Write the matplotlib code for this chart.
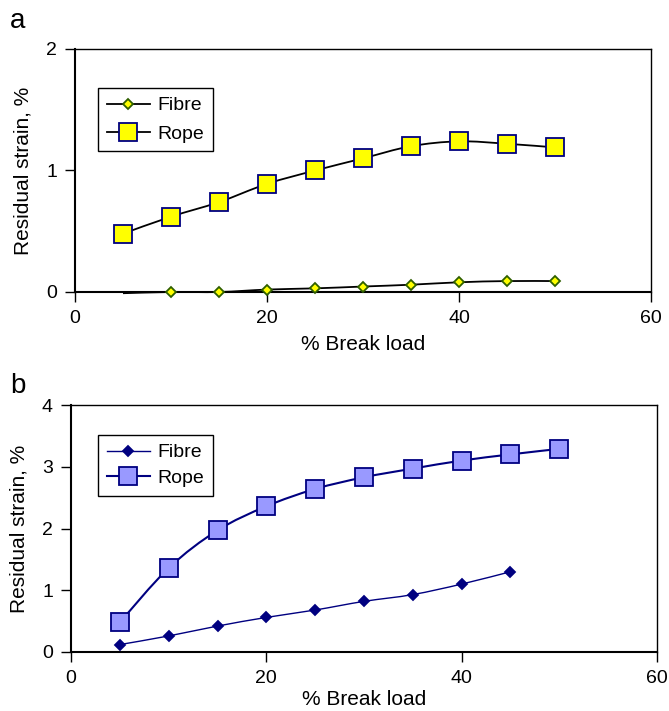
import matplotlib
matplotlib.use("Agg")
import matplotlib.pyplot as plt
import numpy as np
from matplotlib.path import Path
from matplotlib.patches import PathPatch
from matplotlib.lines import Line2D

plt.rcParams['font.family'] = ['Liberation Sans', 'DejaVu Sans']

# % break load
load = [5, 10, 15, 20, 25, 30, 35, 40, 45, 50]

# panel a
fibre_a = [-0.01, 0.0, 0.0, 0.02, 0.03, 0.045, 0.06, 0.08, 0.09, 0.09]
rope_a = [0.48, 0.62, 0.74, 0.89, 1.00, 1.10, 1.20, 1.24, 1.22, 1.19]

# panel b
load_fibre_b = [5, 10, 15, 20, 25, 30, 35, 40, 45]
fibre_b = [0.12, 0.26, 0.42, 0.56, 0.68, 0.82, 0.93, 1.10, 1.30]
rope_b = [0.48, 1.36, 1.97, 2.36, 2.64, 2.83, 2.97, 3.10, 3.20, 3.29]

xticks = [0, 20, 40, 60]

W, H = 669, 711


def smooth_path(x, y):
    # cubic bezier through every point, like a spreadsheet "smoothed line"
    p = np.column_stack([x, y]).astype(float)
    n = len(p)
    verts = [p[0]]
    codes = [Path.MOVETO]
    for i in range(n - 1):
        p0 = p[i - 1] if i > 0 else p[i]
        p3 = p[i + 2] if i + 2 < n else p[i + 1]
        c1 = p[i] + (p[i + 1] - p0) / 6.0
        c2 = p[i + 1] - (p3 - p[i]) / 6.0
        verts += [c1, c2, p[i + 1]]
        codes += [Path.CURVE4] * 3
    return Path(verts, codes)


def draw_series(ax, x, y, color, lw, marker, ms, mfc, mec, skip_first=False):
    ax.add_patch(PathPatch(smooth_path(x, y), fill=False, edgecolor=color,
                           lw=lw, zorder=2, clip_on=False))
    xs, ys = (x[1:], y[1:]) if skip_first else (x, y)
    ax.plot(xs, ys, ls='none', marker=marker, ms=ms, mfc=mfc, mec=mec,
            mew=1.3, zorder=3, clip_on=False)
    return Line2D([], [], color=color, lw=lw, marker=marker, ms=ms,
                  mfc=mfc, mec=mec, mew=1.3)


def style_axes(ax, ylim, yticks, xlabelpad):
    ax.set_xlim(0, 60)
    ax.set_ylim(*ylim)
    ax.set_xticks(xticks)
    ax.set_yticks(yticks)
    ax.tick_params(direction='out', length=7, width=1, labelsize=14)
    ax.tick_params(axis='x', pad=6)
    ax.tick_params(axis='y', pad=6)
    for s in ax.spines.values():
        s.set_linewidth(1.0)
    ax.spines['left'].set_linewidth(1.5)
    ax.spines['bottom'].set_linewidth(1.5)
    ax.set_xlabel('% Break load', fontsize=15, labelpad=xlabelpad)
    ax.set_ylabel('Residual strain, %', fontsize=15, labelpad=10)


def add_legend(ax, handles, left, top, spacing):
    leg = ax.legend(handles, ['Fibre', 'Rope'], loc='upper left',
                    bbox_to_anchor=(left / W, 1 - top / H),
                    bbox_transform=ax.figure.transFigure, borderaxespad=0,
                    fontsize=14, frameon=True, fancybox=False,
                    edgecolor='black', framealpha=1, handlelength=2.2,
                    borderpad=0.45, labelspacing=spacing, handletextpad=0.4)
    leg.get_frame().set_linewidth(1.0)


fig = plt.figure(figsize=(W / 100, H / 100), dpi=100)

ax1 = fig.add_axes([75 / W, 1 - 292 / H, 576 / W, 243 / H])
h1 = draw_series(ax1, load, fibre_a, 'black', 1.3, 'D', 5.5, '#ffff00', '#2f5f00',
                 skip_first=True)
h2 = draw_series(ax1, load, rope_a, 'black', 1.3, 's', 13, '#ffff00', '#000080')
style_axes(ax1, (0, 2), [0, 1, 2], 6)
add_legend(ax1, [h1, h2], 98, 88, 0.55)
fig.text(10 / W, 1 - 28 / H, 'a', fontsize=20, va='baseline')

ax2 = fig.add_axes([71 / W, 1 - 652 / H, 586 / W, 247 / H])
h3 = draw_series(ax2, load_fibre_b, fibre_b, '#000080', 1.0, 'D', 5.5, '#000080',
                 '#000080')
h4 = draw_series(ax2, load, rope_b, '#000080', 1.5, 's', 13, '#9999ff', '#000080')
style_axes(ax2, (0, 4), [0, 1, 2, 3, 4], 2)
add_legend(ax2, [h3, h4], 98, 435, 0.4)
fig.text(10 / W, 1 - 393 / H, 'b', fontsize=20, va='baseline')

fig.savefig('out.png', dpi=100)
